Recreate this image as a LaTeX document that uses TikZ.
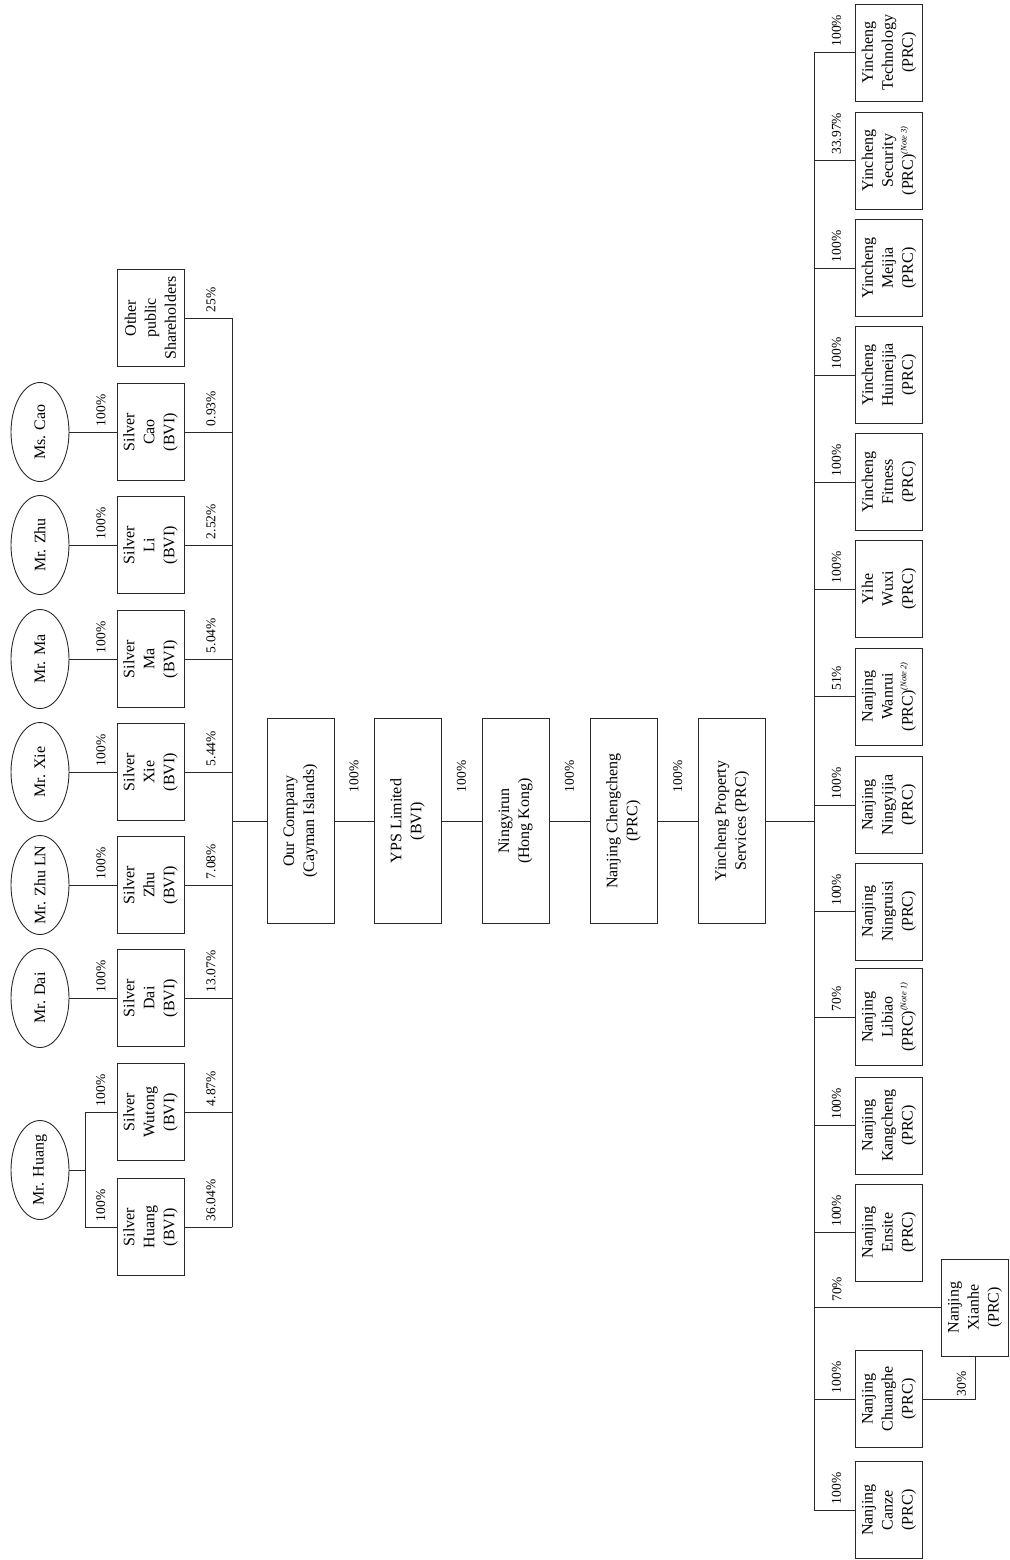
\documentclass[tikz,border=0pt]{standalone}
\usepackage{fontspec}
\setmainfont{Liberation Serif}
\usepackage{tikz}
\usetikzlibrary{shapes.geometric, calc}
\definecolor{linegray}{RGB}{45,40,40}
\newcommand{\sharenote}[1]{\textsuperscript{\fontsize{8.5}{9}\selectfont\itshape (Note #1)}}

\begin{document}
\begin{tikzpicture}[
        x=1pt, y=-1pt,
        every node/.style={rotate=90},
        person/.style={draw=linegray, line width=0.9pt, ellipse, minimum width=99pt, minimum height=58pt, inner xsep=-5pt, inner ysep=0pt, font=\fontsize{16}{20}\selectfont},
        entity/.style={draw=linegray, line width=0.9pt, align=center, minimum width=97pt, minimum height=67pt, inner sep=2pt, font=\fontsize{16}{20}\selectfont},
        chainbox/.style={entity, minimum width=205pt},
        pct/.style={anchor=west, inner sep=0pt, outer xsep=6pt, font=\fontsize{13.5}{15}\selectfont},
        chainpct/.style={pct, outer xsep=29pt},
        link/.style={draw=linegray, line width=0.9pt, line cap=rect}
    ]
        \useasboundingbox (0,0) rectangle (1009,1560);

        % shareholders
        \node[person] (pcao) at (40,432) {Ms. Cao};
        \node[person] (pzhu) at (40,545) {Mr. Zhu};
        \node[person] (pma) at (40,659) {Mr. Ma};
        \node[person] (pxie) at (40,772) {Mr. Xie};
        \node[person] (pzhuln) at (40,885) {Mr. Zhu LN};
        \node[person] (pdai) at (40,998) {Mr. Dai};
        \node[person] (phuang) at (40,1170) {Mr. Huang};

        % holding vehicles
        \node[entity] (other) at (150.5,318) {Other\\public\\Shareholders};
        \node[entity] (scao) at (150.5,432) {Silver\\Cao\\(BVI)};
        \node[entity] (sli) at (150.5,545) {Silver\\Li\\(BVI)};
        \node[entity] (sma) at (150.5,659) {Silver\\Ma\\(BVI)};
        \node[entity] (sxie) at (150.5,772) {Silver\\Xie\\(BVI)};
        \node[entity] (szhu) at (150.5,885) {Silver\\Zhu\\(BVI)};
        \node[entity] (sdai) at (150.5,998) {Silver\\Dai\\(BVI)};
        \node[entity] (swutong) at (150.5,1112) {Silver\\Wutong\\(BVI)};
        \node[entity] (shuang) at (150.5,1227) {Silver\\Huang\\(BVI)};

        % main chain
        \node[chainbox] (ourco) at (300.5,821) {Our Company\\(Cayman Islands)};
        \node[chainbox] (yps) at (407.5,821) {YPS Limited\\(BVI)};
        \node[chainbox] (ningyirun) at (515.5,821) {Ningyirun\\(Hong Kong)};
        \node[chainbox] (chengcheng) at (623.5,821) {Nanjing Chengcheng\\(PRC)};
        \node[chainbox] (property) at (732,821) {Yincheng Property\\Services (PRC)};

        % subsidiaries
        \node[entity] (tech) at (889,52.5) {Yincheng\\Technology\\(PRC)};
        \node[entity] (security) at (889,160.5) {Yincheng\\Security\\(PRC)\sharenote{3}};
        \node[entity] (meijia) at (889,268) {Yincheng\\Meijia\\(PRC)};
        \node[entity] (huimeijia) at (889,375) {Yincheng\\Huimeijia\\(PRC)};
        \node[entity] (fitness) at (889,482) {Yincheng\\Fitness\\(PRC)};
        \node[entity] (yihe) at (889,589) {Yihe\\Wuxi\\(PRC)};
        \node[entity] (wanrui) at (889,696.5) {Nanjing\\Wanrui\\(PRC)\sharenote{2}};
        \node[entity] (ningyijia) at (889,805) {Nanjing\\Ningyijia\\(PRC)};
        \node[entity] (ningruisi) at (889,911.5) {Nanjing\\Ningruisi\\(PRC)};
        \node[entity] (libiao) at (889,1017) {Nanjing\\Libiao\\(PRC)\sharenote{1}};
        \node[entity] (kangcheng) at (889,1125.5) {Nanjing\\Kangcheng\\(PRC)};
        \node[entity] (ensite) at (889,1232.5) {Nanjing\\Ensite\\(PRC)};
        \node[entity] (xianhe) at (975,1307.5) {Nanjing\\Xianhe\\(PRC)};
        \node[entity] (chuanghe) at (889,1399) {Nanjing\\Chuanghe\\(PRC)};
        \node[entity] (canze) at (889,1510) {Nanjing\\Canze\\(PRC)};

        % shareholders to holding vehicles
        \draw[link] (pcao) -- node[pct, pos=.67] {100\%} (scao);
        \draw[link] (pzhu) -- node[pct, pos=.67] {100\%} (sli);
        \draw[link] (pma) -- node[pct, pos=.67] {100\%} (sma);
        \draw[link] (pxie) -- node[pct, pos=.67] {100\%} (sxie);
        \draw[link] (pzhuln) -- node[pct, pos=.67] {100\%} (szhu);
        \draw[link] (pdai) -- node[pct, pos=.67] {100\%} (sdai);

        \coordinate (hfork) at (85,1170);
        \draw[link] (phuang) -- (hfork);
        \draw[link] (hfork |- swutong) -- (hfork |- shuang);
        \draw[link] (hfork |- swutong) -- node[pct] {100\%} (swutong);
        \draw[link] (hfork |- shuang) -- node[pct] {100\%} (shuang);

        % holding vehicles to our company
        \coordinate (busL) at (232,821);
        \draw[link] (other -| busL) -- (shuang -| busL);
        \draw[link] (other) -- node[pct, pos=.56] {25\%} (other -| busL);
        \draw[link] (scao) -- node[pct, pos=.56] {0.93\%} (scao -| busL);
        \draw[link] (sli) -- node[pct, pos=.56] {2.52\%} (sli -| busL);
        \draw[link] (sma) -- node[pct, pos=.56] {5.04\%} (sma -| busL);
        \draw[link] (sxie) -- node[pct, pos=.56] {5.44\%} (sxie -| busL);
        \draw[link] (szhu) -- node[pct, pos=.56] {7.08\%} (szhu -| busL);
        \draw[link] (sdai) -- node[pct, pos=.56] {13.07\%} (sdai -| busL);
        \draw[link] (swutong) -- node[pct, pos=.56] {4.87\%} (swutong -| busL);
        \draw[link] (shuang) -- node[pct, pos=.56] {36.04\%} (shuang -| busL);
        \draw[link] (busL) -- (ourco);

        % main chain
        \draw[link] (ourco) -- node[chainpct] {100\%} (yps);
        \draw[link] (yps) -- node[chainpct] {100\%} (ningyirun);
        \draw[link] (ningyirun) -- node[chainpct] {100\%} (chengcheng);
        \draw[link] (chengcheng) -- node[chainpct] {100\%} (property);

        % property services to subsidiaries
        \coordinate (busR) at (814,821);
        \draw[link] (property) -- (busR);
        \draw[link] (busR |- tech) -- (busR |- canze);
        \draw[link] (busR |- tech) -- node[pct, pos=.55] {100\%} (tech);
        \draw[link] (busR |- security) -- node[pct, pos=.55] {33.97\%} (security);
        \draw[link] (busR |- meijia) -- node[pct, pos=.55] {100\%} (meijia);
        \draw[link] (busR |- huimeijia) -- node[pct, pos=.55] {100\%} (huimeijia);
        \draw[link] (busR |- fitness) -- node[pct, pos=.55] {100\%} (fitness);
        \draw[link] (busR |- yihe) -- node[pct, pos=.55] {100\%} (yihe);
        \draw[link] (busR |- wanrui) -- node[pct, pos=.55] {51\%} (wanrui);
        \draw[link] (busR |- ningyijia) -- node[pct, pos=.55] {100\%} (ningyijia);
        \draw[link] (busR |- ningruisi) -- node[pct, pos=.55] {100\%} (ningruisi);
        \draw[link] (busR |- libiao) -- node[pct, pos=.55] {70\%} (libiao);
        \draw[link] (busR |- kangcheng) -- node[pct, pos=.55] {100\%} (kangcheng);
        \draw[link] (busR |- ensite) -- node[pct, pos=.55] {100\%} (ensite);
        \draw[link] (busR |- xianhe) -- node[pct, pos=.18] {70\%} (xianhe);
        \draw[link] (busR |- chuanghe) -- node[pct, pos=.55] {100\%} (chuanghe);
        \draw[link] (busR |- canze) -- node[pct, pos=.55] {100\%} (canze);
        \draw[link] (chuanghe) -| node[pct, pos=.37, outer xsep=3pt] {30\%} (xianhe);
    \end{tikzpicture}
\end{document}
